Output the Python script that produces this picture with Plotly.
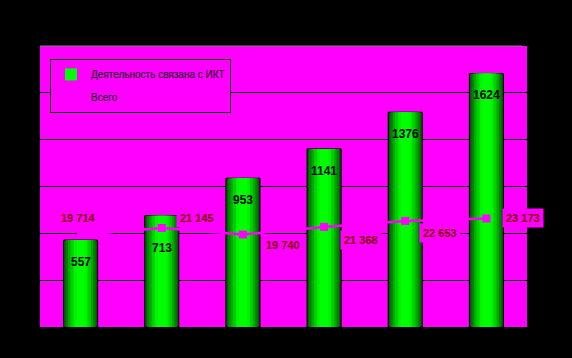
import plotly.graph_objects as go

categories = ["2003", "2004", "2005", "2006", "2007", "2008"]
ict_values = [557, 713, 953, 1141, 1376, 1624]
total_values = [19714, 21145, 19740, 21368, 22653, 23173]
total_labels = ["19 714", "21 145", "19 740", "21 368", "22 653", "23 173"]

MAGENTA = "#FF00FF"
FONT = "Liberation Sans, Arial, sans-serif"

fig = go.Figure()

# gradient-like cylinder bars built from overlaid layers
layers = [
    (0.42, "#005a00", dict(color="black", width=1)),
    (0.37, "#008000", dict(width=0)),
    (0.31, "#00a800", dict(width=0)),
    (0.25, "#00d000", dict(width=0)),
    (0.17, "#00f400", dict(width=0)),
    (0.10, "#00ff00", dict(width=0)),
]
for i, (w, c, ln) in enumerate(layers):
    fig.add_trace(go.Bar(
        x=categories, y=ict_values, width=w,
        marker=dict(color=c, line=ln),
        name="Деятельность связана с ИКТ",
        showlegend=(i == len(layers) - 1), legendgroup="a",
        hoverinfo="skip",
    ))

fig.add_trace(go.Scatter(
    x=categories, y=total_values, yaxis="y2", mode="lines+markers",
    line=dict(color=MAGENTA, width=2.5),
    marker=dict(symbol="square", size=8, color=MAGENTA),
    name="Всего", legendgroup="b",
))

# bar value labels (x given as category index)
for i, v in enumerate(ict_values):
    fig.add_annotation(x=i, y=v, xref="x", yref="y", text=str(v), showarrow=False,
                       yshift=-32 if i == 1 else -22,
                       font=dict(family=FONT, size=12, color="black", weight="bold"))

# line value labels
shifts = [(-2, 17), (35, 10), (40, -10), (37, -13), (35, -12), (37, 0)]
for i, (v, t, (dx, dy)) in enumerate(zip(total_values, total_labels, shifts)):
    fig.add_annotation(x=i, y=v, xref="x", yref="y2", text=t, showarrow=False,
                       xshift=dx, yshift=dy, bgcolor=MAGENTA, borderpad=3,
                       font=dict(family=FONT, size=11, color="#800000", weight="bold"))

# gray top border of plot area
fig.add_shape(type="line", xref="paper", yref="paper", x0=0, x1=0.99, y0=1, y1=1,
              line=dict(color="#808080", width=1))

fig.update_layout(
    width=572, height=358,
    margin=dict(l=40, r=45, t=46, b=31),
    paper_bgcolor="black", plot_bgcolor=MAGENTA,
    barmode="overlay",
    xaxis=dict(type="category", categoryorder="array", categoryarray=categories,
               range=[-0.5, len(categories) - 0.5], autorange=False,
               showticklabels=False, showgrid=False,
               zeroline=False, showline=False, ticks=""),
    yaxis=dict(range=[0, 1800], autorange=False, dtick=300, showticklabels=False,
               showgrid=True, gridcolor="black", gridwidth=1,
               zeroline=False, showline=False, ticks=""),
    yaxis2=dict(range=[0, 60000], autorange=False, overlaying="y", visible=False),
    legend=dict(x=0.0205, y=0.954, xanchor="left", yanchor="top",
                bgcolor=MAGENTA, bordercolor="black", borderwidth=1,
                font=dict(family=FONT, size=10, color="black"),
                traceorder="grouped", tracegroupgap=4, itemwidth=30),
    showlegend=True,
)

fig.write_html("out.html")
